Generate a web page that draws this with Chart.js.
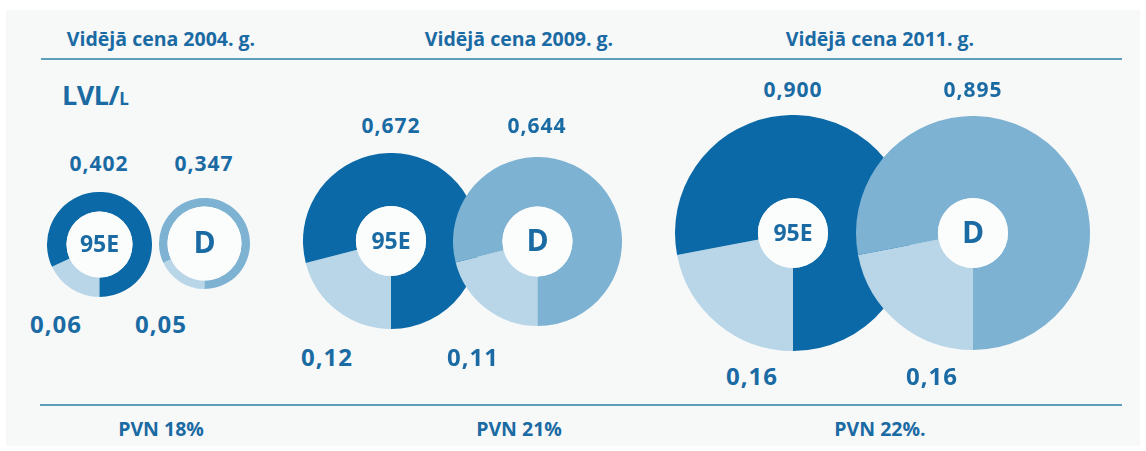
<!DOCTYPE html>
<html lang="lv">
<head>
<meta charset="UTF-8">
<title>Vidējā degvielas cena</title>
<script src="https://cdn.jsdelivr.net/npm/chart.js"></script>
<style>
    body {
        margin: 0;
        background: #ffffff;
        font-family: "Open Sans", Lato, sans-serif;
    }
    #stage {
        position: relative;
        width: 1146px;
        height: 451px;
        overflow: hidden;
    }
    #paper {
        position: absolute;
        left: 6px; top: 10px;
        width: 1134px; height: 436px;
        background: #f7f8f8;
    }
    .rule {
        position: absolute;
        height: 2px;
        background: #5e9fbb;
    }
    .txt {
        position: absolute;
        color: #1a6aa3;
        font-weight: 700;
        white-space: nowrap;
        transform: translate(-50%, -50%);
    }
    .title { font-size: 19.5px; }
    .num { font-size: 21px; letter-spacing: 1px; }
    .vat { font-size: 24px; letter-spacing: 1px; }
    .unit { font-size: 27px; letter-spacing: -0.5px; transform: none; }
    .unit small { font-size: 17px; }
    canvas { position: absolute; }
</style>
</head>
<body>
<div id="stage">
    <div id="paper"></div>
    <div class="rule" style="left:41px; top:58px; width:1081px;"></div>
    <div class="rule" style="left:40px; top:404px; width:1082px;"></div>
    <div class="txt unit" style="left:62px; top:76px;">LVL/<small>L</small></div>
</div>
<script>
    // data
    const years = ['2004', '2009', '2011'];
    const fuels = ['95E', 'D'];
    const price95E = [0.402, 0.672, 0.900];   // LVL/l
    const priceD = [0.347, 0.644, 0.895];
    const vat95E = [0.06, 0.12, 0.16];
    const vatD = [0.05, 0.11, 0.16];
    const vatRates = [18, 21, 22];            // PVN %

    // layout
    const pxPerLat = 131;                      // circle radius per LVL
    const centers = [
        [[99, 244], [204, 243]],
        [[391, 241], [537, 241]],
        [[793, 233], [973, 233]]
    ];
    const groupX = [161, 519, 880];
    const topY = [163, 125, 89];
    const bottomY = [323, 356, 375];
    const bottomDx = [-43, -64, -41];
    const holes = [[33, 37], [35, 35], [35, 35]];

    const colors = {
        '95E': ['#b9d6e8', '#0a69a6'],
        'D': ['#b9d6e8', '#7db2d3']
    };

    const stage = document.getElementById('stage');

    function addText(cls, text, x, y) {
        const el = document.createElement('div');
        el.className = 'txt ' + cls;
        el.textContent = text;
        el.style.left = x + 'px';
        el.style.top = y + 'px';
        stage.appendChild(el);
    }

    function fmt(v, d) {
        return v.toFixed(d).replace('.', ',');
    }

    // white hole with the fuel name in the middle
    const centerLabel = {
        id: 'centerLabel',
        afterDraw(chart) {
            const ctx = chart.ctx;
            const meta = chart.getDatasetMeta(0).data[0];
            const x = meta.x, y = meta.y;
            const opt = chart.options.plugins.centerLabel;
            ctx.save();
            ctx.beginPath();
            ctx.arc(x, y, meta.innerRadius, 0, Math.PI * 2);
            ctx.fillStyle = '#fbfcfc';
            ctx.fill();
            ctx.fillStyle = '#1a6aa3';
            ctx.textAlign = 'center';
            ctx.textBaseline = 'middle';
            ctx.font = opt.font;
            ctx.fillText(opt.text, x, y + 1);
            ctx.restore();
        }
    };

    years.forEach((year, i) => {
        addText('title', 'Vidējā cena ' + year + '. g.', groupX[i], 38);
        addText('title', 'PVN ' + vatRates[i] + '%' + (i === 2 ? '.' : ''), groupX[i], 428);

        fuels.forEach((fuel, j) => {
            const price = j === 0 ? price95E[i] : priceD[i];
            const vat = j === 0 ? vat95E[i] : vatD[i];
            const r = price * pxPerLat;
            const [cx, cy] = centers[i][j];
            const size = Math.round(r * 2);

            const canvas = document.createElement('canvas');
            canvas.width = size;
            canvas.height = size;
            canvas.style.left = (cx - size / 2) + 'px';
            canvas.style.top = (cy - size / 2) + 'px';
            stage.appendChild(canvas);

            new Chart(canvas.getContext('2d'), {
                type: 'doughnut',
                data: {
                    labels: ['PVN', 'Cena bez PVN'],
                    datasets: [{
                        data: [vatRates[i], 100 - vatRates[i]],
                        backgroundColor: colors[fuel],
                        borderWidth: 0,
                        hoverOffset: 0
                    }]
                },
                options: {
                    responsive: false,
                    animation: false,
                    events: [],
                    rotation: 180,
                    cutout: holes[i][j],
                    layout: { padding: 0 },
                    plugins: {
                        legend: { display: false },
                        tooltip: { enabled: false },
                        centerLabel: {
                            text: fuel,
                            font: fuel === 'D' ? '700 30px "Open Sans"' : '700 23px "Open Sans"'
                        }
                    }
                },
                plugins: [centerLabel]
            });

            addText('num', fmt(price, 3), cx, topY[i]);
            addText('vat', fmt(vat, 2), cx + bottomDx[i], bottomY[i]);
        });
    });
</script>
</body>
</html>
